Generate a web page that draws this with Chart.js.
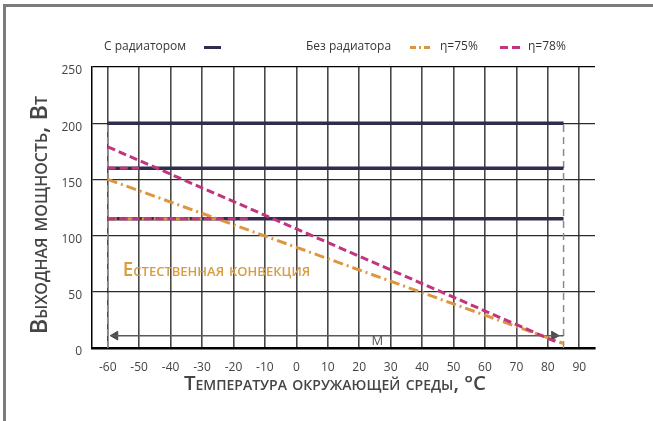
<!DOCTYPE html>
<html>
<head>
<meta charset="utf-8">
<script src="https://cdn.jsdelivr.net/npm/chart.js@4.4.1/dist/chart.umd.min.js"></script>
<style>
  html, body { margin: 0; padding: 0; background: #fff; }
  #wrap { width: 653px; height: 421px; position: relative; }
</style>
</head>
<body>
<div id="wrap"><canvas id="powerChart" width="653" height="421"></canvas></div>
<script>
// ticks
const tempTicks = [-60, -50, -40, -30, -20, -10, 0, 10, 20, 30, 40, 50, 60, 70, 80, 90];
const powerTicks = [0, 50, 100, 150, 200, 250];

// with radiator (flat levels)
const radiatorLevels = [200, 160, 115];
const radiatorTemps = [-60, 85];

// without radiator, eta = 78% / 75%
const eta78Temps = [-60, 83];
const eta78Power = [179, 5];
const eta75Temps = [-60, 85];
const eta75Power = [150, 4];

// short overlaps on the flat levels
const eta78FlatLevels = [160, 115];
const eta78FlatEnds = [-50, -15];
const eta75FlatLevels = [115];
const eta75FlatEnds = [-25];

// limit lines and the "M" range arrow
const limitTemps = [-60, 85];
const limitTop = 200;
const arrowTemps = [-59, 85];
const arrowHeadTemps = [-57.6, 82];
const arrowLevel = 11;

const navy = '#2e2d4d';
const pink = '#c2357e';
const orange = '#de963e';
const textGray = '#363636';

const pts = (xs, ys) => xs.map((x, i) => ({ x: x, y: ys[i] }));

const datasets = [];

eta78FlatLevels.forEach((lvl, i) => {
    datasets.push({
        data: pts([-60, eta78FlatEnds[i]], [lvl, lvl]),
        borderColor: pink, borderWidth: 3, borderDash: [8, 4], order: 1
    });
});
eta75FlatLevels.forEach((lvl, i) => {
    datasets.push({
        data: pts([-60, eta75FlatEnds[i]], [lvl, lvl]),
        borderColor: orange, borderWidth: 3, borderDash: [9, 3, 2, 3], order: 1
    });
});
datasets.push({
    data: pts(eta78Temps, eta78Power),
    borderColor: pink, borderWidth: 3, borderDash: [8, 4], order: 1
});
datasets.push({
    data: pts(eta75Temps, eta75Power),
    borderColor: orange, borderWidth: 3, borderDash: [10, 4, 2, 4], order: 1
});
radiatorLevels.forEach(lvl => {
    datasets.push({
        data: pts(radiatorTemps, [lvl, lvl]),
        borderColor: navy, borderWidth: 3.5, order: 3
    });
});
limitTemps.forEach(t => {
    datasets.push({
        data: pts([t, t], [0, limitTop]),
        borderColor: '#8a8a8a', borderWidth: 1.5, borderDash: [7, 5], order: 4
    });
});
datasets.push({
    data: pts(arrowTemps, [arrowLevel, arrowLevel]),
    borderColor: '#5a5a5a', borderWidth: 1.5, order: 2
});
datasets.push({
    data: pts(arrowHeadTemps, [arrowLevel, arrowLevel]),
    showLine: false,
    pointStyle: 'triangle',
    pointRadius: 5,
    pointRotation: [-90, 90],
    pointBackgroundColor: '#4a4a4a',
    pointBorderColor: '#4a4a4a',
    pointBorderWidth: 1,
    order: 2
});

function fitText(ctx, text, weight, family, baseSize, targetW) {
    ctx.font = 'small-caps ' + weight + ' ' + baseSize + 'px ' + family;
    const w = ctx.measureText(text).width;
    const size = baseSize * targetW / w;
    ctx.font = 'small-caps ' + weight + ' ' + size.toFixed(2) + 'px ' + family;
}

const decorPlugin = {
    id: 'decor',
    beforeDraw(chart) {
        const ctx = chart.ctx;
        ctx.save();
        ctx.fillStyle = '#fff';
        ctx.fillRect(0, 0, chart.width, chart.height);
        ctx.strokeStyle = '#7b7b7b';
        ctx.lineWidth = 3;
        ctx.beginPath();
        ctx.moveTo(4.5, chart.height);
        ctx.lineTo(4.5, 5.5);
        ctx.lineTo(chart.width, 5.5);
        ctx.stroke();
        ctx.restore();
    },
    afterDraw(chart) {
        const ctx = chart.ctx;
        const xs = chart.scales.x, ys = chart.scales.y;
        ctx.save();
        ctx.textBaseline = 'middle';

        // legend
        ctx.fillStyle = textGray;
        ctx.font = '500 12px "Open Sans"';
        ctx.textAlign = 'left';
        ctx.fillText('С радиатором', 104, 47);
        ctx.fillText('Без радиатора', 306, 47);
        ctx.fillText('η=75%', 440, 47);
        ctx.fillText('η=78%', 528, 47);
        ctx.lineWidth = 3;
        ctx.strokeStyle = navy;
        ctx.beginPath(); ctx.moveTo(204, 47.5); ctx.lineTo(221, 47.5); ctx.stroke();
        ctx.strokeStyle = orange;
        ctx.setLineDash([6, 3, 2, 3]);
        ctx.beginPath(); ctx.moveTo(410, 47.5); ctx.lineTo(433, 47.5); ctx.stroke();
        ctx.strokeStyle = pink;
        ctx.setLineDash([8, 4]);
        ctx.beginPath(); ctx.moveTo(500, 47.5); ctx.lineTo(522, 47.5); ctx.stroke();
        ctx.setLineDash([]);

        // axis titles
        ctx.fillStyle = '#454545';
        ctx.textAlign = 'center';
        fitText(ctx, 'Температура окружающей среды, °С', '600', '"Open Sans"', 16, 304);
        ctx.fillText('Температура окружающей среды, °С', 335, 384);
        ctx.save();
        ctx.translate(40, 215);
        ctx.rotate(-Math.PI / 2);
        fitText(ctx, 'Выходная мощность, Вт', '600', '"Open Sans"', 16, 240);
        ctx.fillText('Выходная мощность, Вт', 0, 0);
        ctx.restore();

        // annotations
        ctx.textAlign = 'left';
        ctx.fillStyle = '#d99d3f';
        fitText(ctx, 'Естественная конвекция', '600', '"Open Sans"', 15, 198);
        ctx.fillText('Естественная конвекция', xs.getPixelForValue(-55.2), ys.getPixelForValue(68.5));
        ctx.textAlign = 'center';
        ctx.fillStyle = '#555';
        ctx.font = '13px "Open Sans"';
        ctx.fillText('M', xs.getPixelForValue(25.8), ys.getPixelForValue(6.2));
        ctx.restore();
    }
};

const ctx = document.getElementById('powerChart').getContext('2d');
new Chart(ctx, {
    type: 'line',
    data: { datasets: datasets },
    plugins: [decorPlugin],
    options: {
        responsive: false,
        animation: false,
        layout: { padding: { top: 67, right: 58, left: 0, bottom: 0 } },
        elements: {
            line: { tension: 0, fill: false },
            point: { radius: 0 }
        },
        plugins: {
            legend: { display: false },
            tooltip: { enabled: false }
        },
        scales: {
            x: {
                type: 'linear',
                min: -65,
                max: 95,
                afterFit: s => { s.height = 73; },
                afterBuildTicks: s => { s.ticks = tempTicks.map(v => ({ value: v })); },
                grid: { color: '#484848', lineWidth: 1.6, drawTicks: false },
                border: { color: '#000', width: 2.5 },
                ticks: {
                    padding: 12,
                    color: '#444',
                    font: { family: '"Open Sans"', size: 12 },
                    maxRotation: 0,
                    autoSkip: false
                }
            },
            y: {
                type: 'linear',
                min: 0,
                max: 250,
                afterFit: s => { s.width = 92; },
                afterBuildTicks: s => { s.ticks = powerTicks.map(v => ({ value: v })); },
                grid: {
                    color: ctx => ctx.tick && ctx.tick.value === 250 ? '#000' : '#2a2a2a',
                    lineWidth: 1.3,
                    drawTicks: false
                },
                border: { color: '#000', width: 1.5 },
                ticks: {
                    padding: 10,
                    labelOffset: 4,
                    color: '#444',
                    font: { family: '"Open Sans"', size: 12 }
                }
            }
        }
    }
});
</script>
</body>
</html>
